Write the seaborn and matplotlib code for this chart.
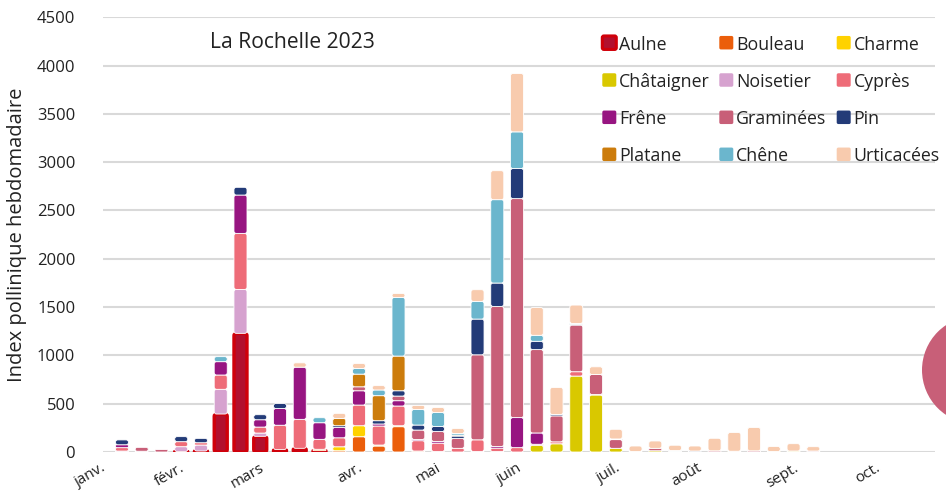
import matplotlib
matplotlib.use("Agg")
import numpy as np
import pandas as pd
import seaborn as sns
import matplotlib.pyplot as plt
from matplotlib.patches import FancyBboxPatch, Ellipse

# ---------------- data ----------------
weeks = list(range(1, 37))
species = ["Aulne", "Bouleau", "Charme", "Châtaigner", "Noisetier", "Cyprès",
           "Frêne", "Graminées", "Pin", "Platane", "Chêne", "Urticacées"]
colors = ["#C4001A", "#EB5E0B", "#FFD200", "#D9C800", "#D6A2CF", "#EE6C78",
          "#971581", "#C85F78", "#233B78", "#CC7C0C", "#6BB6CD", "#F8CBAE"]

aulne      = [0, 0, 0, 5, 10, 393, 1228, 162, 25, 38, 14, 0, 0, 0, 0, 0, 0, 0, 0, 0, 0, 0, 0, 0, 0, 0, 0, 0, 0, 0, 0, 0, 0, 0, 0, 0]
bouleau    = [0, 0, 0, 0, 0, 0, 0, 0, 0, 0, 0, 13, 158, 62, 262, 10, 5, 0, 5, 0, 0, 0, 0, 0, 0, 0, 0, 0, 0, 0, 0, 0, 0, 0, 0, 0]
charme     = [0, 0, 0, 0, 0, 0, 0, 0, 0, 0, 14, 41, 114, 10, 10, 0, 0, 0, 0, 0, 0, 0, 0, 0, 0, 0, 0, 0, 0, 0, 0, 0, 0, 0, 0, 0]
chataigner = [0, 0, 0, 0, 0, 0, 0, 0, 0, 0, 0, 0, 0, 0, 0, 0, 0, 0, 0, 5, 0, 70, 85, 786, 590, 38, 5, 13, 5, 0, 0, 8, 0, 5, 10, 0]
noisetier  = [10, 0, 0, 50, 62, 256, 455, 34, 0, 0, 0, 0, 0, 0, 0, 0, 0, 0, 0, 0, 0, 0, 0, 0, 0, 0, 0, 0, 0, 0, 0, 0, 0, 0, 0, 0]
cypres     = [35, 0, 0, 52, 24, 148, 580, 62, 252, 300, 103, 93, 214, 197, 204, 107, 87, 38, 121, 35, 45, 10, 20, 45, 5, 0, 0, 0, 5, 0, 0, 0, 0, 0, 0, 0]
frene      = [30, 8, 0, 0, 0, 138, 397, 76, 173, 540, 172, 108, 148, 21, 55, 13, 17, 0, 0, 17, 311, 117, 0, 0, 0, 0, 0, 0, 0, 0, 0, 0, 0, 0, 0, 0]
graminees  = [0, 40, 25, 0, 0, 0, 0, 0, 0, 0, 0, 0, 41, 0, 48, 97, 103, 103, 880, 1450, 2267, 863, 269, 483, 207, 90, 0, 25, 0, 0, 12, 0, 12, 0, 0, 10]
pin        = [50, 0, 0, 52, 45, 0, 80, 52, 52, 0, 0, 17, 0, 34, 55, 52, 52, 24, 370, 242, 311, 86, 14, 8, 0, 7, 0, 0, 0, 10, 0, 0, 0, 0, 0, 0]
platane    = [0, 0, 0, 0, 0, 0, 0, 0, 0, 0, 0, 76, 131, 259, 359, 0, 0, 10, 0, 0, 0, 0, 0, 0, 0, 0, 0, 0, 0, 0, 0, 0, 0, 0, 0, 0]
chene      = [0, 0, 0, 0, 0, 52, 0, 0, 0, 0, 52, 0, 59, 59, 607, 162, 145, 17, 183, 863, 380, 62, 0, 9, 0, 0, 0, 0, 5, 0, 0, 0, 0, 0, 0, 0]
urticacees = [0, 0, 0, 0, 0, 0, 0, 0, 0, 45, 0, 52, 52, 45, 41, 41, 52, 52, 121, 300, 604, 287, 280, 190, 80, 100, 57, 76, 55, 52, 130, 194, 242, 52, 76, 45]

month_labels = ["janv.", "févr.", "mars", "avr.", "mai", "juin", "juil.", "août", "sept.", "oct."]
month_pos = [0.35, 4.3, 8.35, 13.3, 17.3, 21.4, 26.4, 30.5, 35.4, 39.5]

title = "La Rochelle 2023"
ylabel = "Index pollinique hebdomadaire"

series = [aulne, bouleau, charme, chataigner, noisetier, cypres,
          frene, graminees, pin, platane, chene, urticacees]
df = pd.concat([pd.DataFrame({"week": weeks, "espece": s, "index": v})
                for s, v in zip(species, series)], ignore_index=True)

# ---------------- figure ----------------
W, H = 946, 494
sns.set_theme(style="white")
plt.rcParams["font.family"] = ["Open Sans", "DejaVu Sans"]
fig = plt.figure(figsize=(W / 100, H / 100), dpi=100)
ax_l, ax_b, ax_w, ax_h = 103 / W, 42 / H, 832 / W, 434.7 / H
ax = fig.add_axes([ax_l, ax_b, ax_w, ax_h])

# seaborn stacks the last hue level at the bottom -> reverse order
sns.histplot(data=df, x="week", weights="index", hue="espece",
             hue_order=species[::-1], palette=colors[::-1],
             multiple="stack", discrete=True, shrink=0.66, alpha=1,
             legend=False, ax=ax)

xlim = (0.04, 42.16)
ylim = (0, 4500)
ax.set_xlim(*xlim)
ax.set_ylim(*ylim)

# rounded bar segments
px_x = 832 / (xlim[1] - xlim[0])
px_y = 434.7 / (ylim[1] - ylim[0])
aspect = px_x / px_y
aul_rgb = matplotlib.colors.to_rgb(colors[0])
for p in list(ax.patches):
    x, y, w, h = p.get_x(), p.get_y(), p.get_width(), p.get_height()
    fc = p.get_facecolor()
    p.remove()
    if h <= 0:
        continue
    rr = min(2.4, h * px_y / 2, w * px_x / 2)
    is_aulne = np.allclose(fc[:3], aul_rgb, atol=0.02)
    fb = FancyBboxPatch((x, y), w, h,
                        boxstyle=f"round,pad=0,rounding_size={rr / px_x}",
                        mutation_aspect=aspect,
                        facecolor="#B2102E" if is_aulne else fc,
                        edgecolor="#D0000A" if is_aulne else "white",
                        linewidth=2.4 if is_aulne else 0.6, zorder=2)
    ax.add_patch(fb)

# axes styling
for s in ax.spines.values():
    s.set_visible(False)
ax.set_axisbelow(True)
ax.yaxis.grid(True, color="#D9D9D9", linewidth=1.5)
ax.xaxis.grid(False)
ax.set_yticks(range(0, 4501, 500))
ax.tick_params(axis="y", length=0, pad=20, labelsize=12, labelcolor="#222222")
ax.set_xticks(month_pos)
ax.set_xticklabels(month_labels, rotation=30, ha="right")
ax.tick_params(axis="x", length=0, pad=6, labelsize=11, labelcolor="#222222")
ax.set_xlabel("")
ax.set_ylabel(ylabel, fontsize=14.5, color="#222222")
ax.yaxis.set_label_coords(-76 / 832, 0.5)

# title
fig.text(210 / W, 1 - 42 / H, title, fontsize=15.2, color="#222222",
         ha="left", va="center")

# legend (3 columns x 4 rows)
col_x = [602.3, 719.3, 836.7]
row_y = [42.7, 80.0, 117.3, 154.3]
sw, sh = 14, 13.5
for i, (name, c) in enumerate(zip(species, colors)):
    r, cc = divmod(i, 3)
    x0 = col_x[cc]
    yc = row_y[r]
    if i == 0:
        fcol, ecol, lw = "#B2102E", "#D0000A", 2.2
    else:
        fcol, ecol, lw = c, c, 0
    fig.add_artist(FancyBboxPatch((x0 / W, 1 - (yc + sh / 2) / H), sw / W, sh / H,
                                  boxstyle="round,pad=0,rounding_size=0.0018",
                                  mutation_aspect=W / H, transform=fig.transFigure,
                                  facecolor=fcol, edgecolor=ecol, linewidth=lw))
    fig.text((x0 + 17) / W, 1 - yc / H, name, fontsize=12.8, color="#222222",
             ha="left", va="center_baseline")

# decorative circle at right edge
fig.add_artist(Ellipse((976 / W, 1 - 370 / H), 108 / W, 108 / H,
                       transform=fig.transFigure, facecolor="#C85F78",
                       edgecolor="none"))

fig.savefig("out.png", dpi=100)
